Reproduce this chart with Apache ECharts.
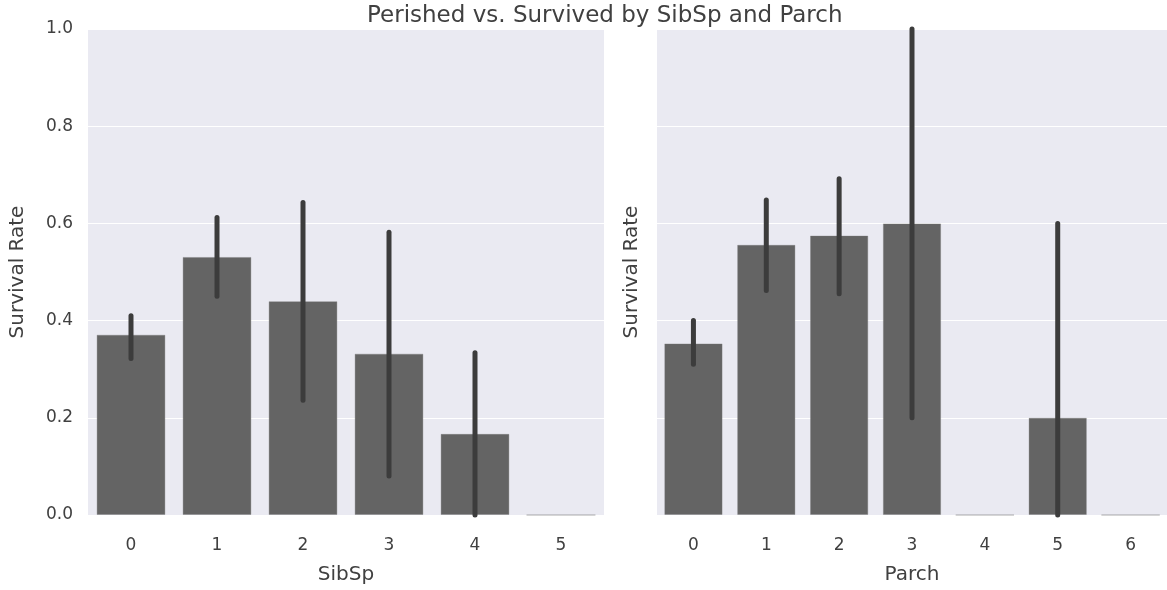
<!DOCTYPE html>
<html>
<head>
<meta charset="utf-8">
<script src="https://cdn.jsdelivr.net/npm/echarts@6/dist/echarts.min.js"></script>
<style>
  html, body { margin: 0; padding: 0; background: #fff; }
  #chart { width: 1167px; height: 590px; }
</style>
</head>
<body>
<div id="chart"></div>
<script>
var sibspCats = ['0', '1', '2', '3', '4', '5'];
var sibspRate = [0.371, 0.531, 0.44, 0.332, 0.167, 0];
var sibspLow = [0.322, 0.45, 0.236, 0.08, 0, 0];
var sibspHigh = [0.41, 0.612, 0.643, 0.582, 0.334, 0];

var parchCats = ['0', '1', '2', '3', '4', '5', '6'];
var parchRate = [0.353, 0.556, 0.575, 0.6, 0, 0.2, 0];
var parchLow = [0.31, 0.462, 0.455, 0.2, 0, 0, 0];
var parchHigh = [0.4, 0.648, 0.692, 1.0, 0, 0.6, 0];

var font = '"DejaVu Sans", sans-serif';
var textColor = '#404040';

function errData(lo, hi) {
  var out = [];
  lo.forEach(function (v, i) {
    if (hi[i] > v) out.push([i, v, hi[i]]);
  });
  return out;
}

// vertical confidence line for each bar
function errRender(params, api) {
  var x = api.value(0);
  var p1 = api.coord([x, api.value(1)]);
  var p2 = api.coord([x, api.value(2)]);
  return {
    type: 'line',
    shape: { x1: p1[0], y1: p1[1], x2: p2[0], y2: p2[1] },
    style: { stroke: '#3c3c3c', lineWidth: 5, lineCap: 'round' }
  };
}

function xAx(idx, cats, name) {
  return {
    type: 'category', gridIndex: idx, data: cats,
    name: name, nameLocation: 'middle', nameGap: 50,
    nameTextStyle: { color: textColor, fontSize: 20, fontFamily: font },
    axisLine: { show: false }, axisTick: { show: false },
    axisLabel: { color: textColor, fontSize: 17, fontFamily: font, margin: 22 },
    splitLine: { show: false }
  };
}

function yAx(idx, showLabels) {
  return {
    type: 'value', gridIndex: idx, min: 0, max: 1, interval: 0.2,
    name: 'Survival Rate', nameLocation: 'middle', nameGap: showLabels ? 60 : 15,
    nameTextStyle: { color: textColor, fontSize: 20, fontFamily: font },
    axisLine: { show: false }, axisTick: { show: false },
    axisLabel: {
      show: showLabels, color: textColor, fontSize: 17, fontFamily: font, margin: 15,
      formatter: function (v) { return v.toFixed(1); }
    },
    splitLine: { lineStyle: { color: '#ffffff', width: 1.2 } }
  };
}

var barStyle = { color: '#646464', borderColor: 'rgba(120,120,120,0.35)', borderWidth: 1 };

var option = {
  backgroundColor: '#ffffff',
  animation: false,
  title: {
    text: 'Perished vs. Survived by SibSp and Parch',
    left: 362, top: 0,
    textStyle: { color: textColor, fontSize: 23, fontWeight: 'normal', fontFamily: font }
  },
  grid: [
    { left: 88, top: 29, width: 516, height: 488, backgroundColor: '#EAEAF2', show: true, borderWidth: 0 },
    { left: 657, top: 29, width: 510, height: 488, backgroundColor: '#EAEAF2', show: true, borderWidth: 0 }
  ],
  xAxis: [xAx(0, sibspCats, 'SibSp'), xAx(1, parchCats, 'Parch')],
  yAxis: [yAx(0, true), yAx(1, false)],
  series: [
    { type: 'bar', xAxisIndex: 0, yAxisIndex: 0, data: sibspRate, barWidth: '80%', itemStyle: barStyle },
    { type: 'bar', xAxisIndex: 1, yAxisIndex: 1, data: parchRate, barWidth: '80%', itemStyle: barStyle },
    { type: 'custom', xAxisIndex: 0, yAxisIndex: 0, data: errData(sibspLow, sibspHigh), renderItem: errRender, z: 5 },
    { type: 'custom', xAxisIndex: 1, yAxisIndex: 1, data: errData(parchLow, parchHigh), renderItem: errRender, z: 5 }
  ]
};

var myChart = echarts.init(document.getElementById('chart'));
myChart.setOption(option);
window.addEventListener('resize', function () {
  myChart.resize();
});
</script>
</body>
</html>
